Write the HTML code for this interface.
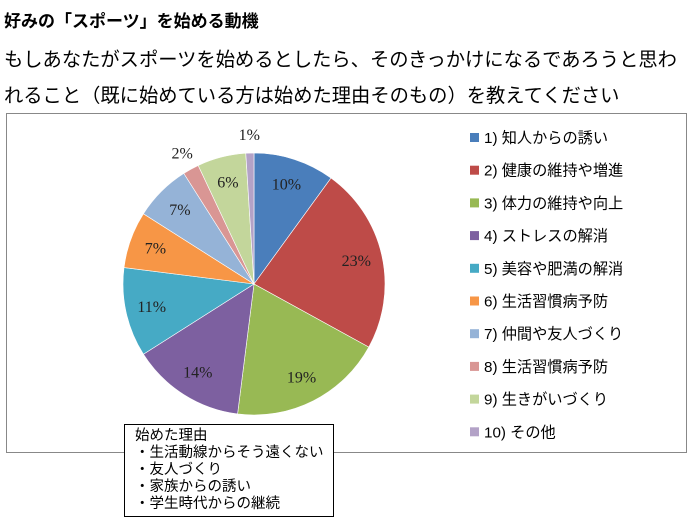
<!DOCTYPE html>
<html><head><meta charset="utf-8">
<style>
body{margin:0;width:691px;height:525px;background:#fff;overflow:hidden;position:relative;font-family:"Liberation Sans","Noto Sans CJK JP",sans-serif;color:#000}
.t{position:absolute;white-space:nowrap}
#chartbox{position:absolute;left:6px;top:113px;width:681px;height:340px;border:1px solid #888;box-sizing:border-box}
#note{position:absolute;left:124px;top:424px;width:210px;height:93px;border:1px solid #000;background:#fff;box-sizing:border-box;font-size:14.5px;line-height:17px;padding:3px 0 0 10px}
</style></head><body>
<div class="t" style="left:4px;top:7px;font-size:17px;font-weight:bold">好みの「スポーツ」を始める動機</div>
<div class="t" style="left:4px;top:44px;font-size:19.3px">もしあなたがスポーツを始めるとしたら、そのきっかけになるであろうと思わ</div>
<div class="t" style="left:4px;top:80px;font-size:19.3px">れること（既に始めている方は始めた理由そのもの）を教えてください</div>
<div id="chartbox"></div>
<svg id="chart" width="691" height="525" style="position:absolute;left:0;top:0"></svg>
<div id="note">始めた理由<br>・生活動線からそう遠くない<br>・友人づくり<br>・家族からの誘い<br>・学生時代からの継続</div>
<script>
const categories=["1) 知人からの誘い","2) 健康の維持や増進","3) 体力の維持や向上","4) ストレスの解消","5) 美容や肥満の解消","6) 生活習慣病予防","7) 仲間や友人づくり","8) 生活習慣病予防","9) 生きがいづくり","10) その他"];
const values=[10,23,19,14,11,7,7,2,6,1];
const colors=["#4a7ebb","#be4b48","#98b954","#7d60a0","#46aac5","#f79646","#95b3d7","#d99694","#c3d69b","#b3a2c7"];
const svg=document.getElementById('chart');
const NS="http://www.w3.org/2000/svg";
const cx=254,cy=284,r=131;
const total=values.reduce((a,b)=>a+b,0);
function pt(a,rr){return [cx+rr*Math.sin(a),cy-rr*Math.cos(a)];}
let acc=0;
values.forEach((v,i)=>{
  const a0=acc/total*2*Math.PI; acc+=v; const a1=acc/total*2*Math.PI;
  const p0=pt(a0,r),p1=pt(a1,r);
  const path=document.createElementNS(NS,'path');
  path.setAttribute('d',`M${cx},${cy}L${p0[0]},${p0[1]}A${r},${r} 0 ${a1-a0>Math.PI?1:0} 1 ${p1[0]},${p1[1]}Z`);
  path.setAttribute('fill',colors[i]);
  path.setAttribute('stroke','#fff');
  path.setAttribute('stroke-width','0.6');
  
  
  svg.appendChild(path);
  const am=(a0+a1)/2;
  const lr=v<=2?r+18:r*0.8;
  const lp=pt(am,lr);
  const t=document.createElementNS(NS,'text');
  t.setAttribute('x',lp[0]);t.setAttribute('y',lp[1]+5);
  t.setAttribute('text-anchor','middle');
  t.setAttribute('font-size','16');
  t.setAttribute('font-family','"Liberation Serif",serif');
  t.setAttribute('fill','#222');
  t.textContent=v+'%';
  
  
  svg.appendChild(t);
});
categories.forEach((c,i)=>{
  const y=138+i*32.7;
  const rc=document.createElementNS(NS,'rect');
  rc.setAttribute('x',470);rc.setAttribute('y',y-5);rc.setAttribute('width',9);rc.setAttribute('height',9);
  rc.setAttribute('fill',colors[i]);
  
  
  svg.appendChild(rc);
  const t=document.createElementNS(NS,'text');
  t.setAttribute('x',484);t.setAttribute('y',y+5);
  t.setAttribute('font-size','15.2');
  t.setAttribute('font-family','"Liberation Sans","Noto Sans CJK JP",sans-serif');
  t.textContent=c;
  
  
  svg.appendChild(t);
});
</script>
</body></html>
